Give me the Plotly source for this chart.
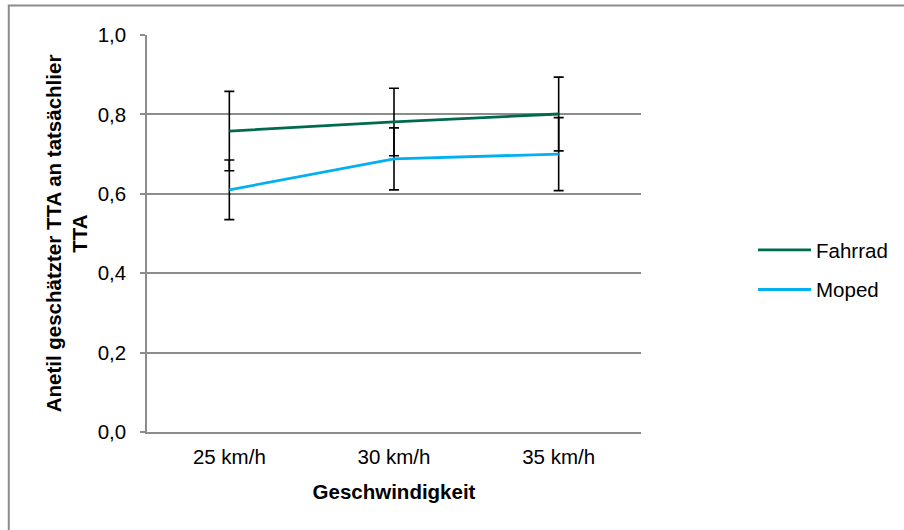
import plotly.graph_objects as go

categories = ["25 km/h", "30 km/h", "35 km/h"]
fahrrad = [0.758, 0.781, 0.801]
fahrrad_err = [0.100, 0.085, 0.093]
moped = [0.610, 0.688, 0.700]
moped_err = [0.075, 0.078, 0.092]
y_ticks = [0.0, 0.2, 0.4, 0.6, 0.8, 1.0]

FONT = "Liberation Sans, Arial, sans-serif"
GRID = "#8c8c8c"
FS = 20.5

fig = go.Figure()
fig.add_trace(go.Scatter(
    x=categories, y=fahrrad, name="Fahrrad", mode="lines", legendgroup="a",
    line=dict(color="#006a4e", width=2.8),
    error_y=dict(type="data", array=fahrrad_err, visible=True, color="black", thickness=1.6, width=5),
))
fig.add_trace(go.Scatter(
    x=categories, y=moped, name="Moped", mode="lines", legendgroup="b",
    line=dict(color="#00b0f0", width=2.8),
    error_y=dict(type="data", array=moped_err, visible=True, color="black", thickness=1.6, width=5),
))

L, R, T, B = 147, 262, 35, 98
W, H = 904, 530
pw, ph = W - L - R, H - T - B

fig.update_layout(
    width=W, height=H,
    margin=dict(l=L, r=R, t=T, b=B),
    paper_bgcolor="white", plot_bgcolor="white",
    separators=", ",
    font=dict(family=FONT, size=FS, color="black"),
    showlegend=True,
    legend=dict(x=1.0 + (753 - 642) / pw, y=(432 - 230) / ph, xanchor="left", yanchor="top",
                font=dict(size=FS), itemwidth=53, tracegroupgap=10, bgcolor="rgba(0,0,0,0)"),
    xaxis=dict(type="category", range=[-0.5, 2.5], showgrid=False, showline=True,
               linecolor=GRID, linewidth=1.5, ticks="", tickfont=dict(size=FS),
               ticklabelstandoff=6,
               title=dict(text="<b>Geschwindigkeit</b>", font=dict(size=FS), standoff=17)),
    yaxis=dict(range=[0, 1], tickvals=y_ticks, tickformat=".1f", showgrid=True,
               gridcolor=GRID, gridwidth=1.5, showline=True, linecolor=GRID, linewidth=1.5,
               ticks="outside", ticklen=5, tickcolor=GRID, tickwidth=1.5, zeroline=False,
               tickfont=dict(size=FS), ticklabelstandoff=10,
               title=dict(text="<b>Anetil geschätzter TTA an tatsächlier<br>TTA</b>",
                          font=dict(size=FS), standoff=4)),
)

# outer chart frame
fig.add_shape(type="rect", xref="paper", yref="paper",
              x0=(8.5 - L) / pw, x1=(W + 20 - L) / pw,
              y0=(432 - (H + 20)) / ph, y1=(432 - 5.5) / ph,
              line=dict(color=GRID, width=2), fillcolor="rgba(0,0,0,0)", layer="below")

fig.write_html("out.html")
